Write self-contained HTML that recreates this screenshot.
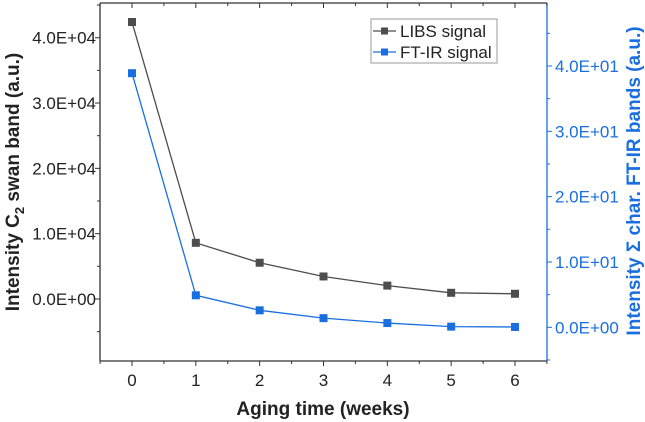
<!DOCTYPE html>
<html><head><meta charset="utf-8"><style>
body{margin:0;background:#fff}
svg{display:block;font-family:"Liberation Sans",Arial,sans-serif}
</style></head><body>
<svg id="chart" width="645" height="422" viewBox="0 0 645 422">
<g id="g"></g>
<g>
<rect x="371" y="19" width="126" height="44" fill="#fff" stroke="#999" stroke-width="1"/>
<line x1="373" y1="31" x2="396" y2="31" stroke="#4d4d4d" stroke-width="1.3"/>
<rect x="381" y="27.5" width="7" height="7" fill="#4d4d4d"/>
<text x="400" y="37" font-size="17" fill="#222">LIBS signal</text>
<line x1="373" y1="52" x2="396" y2="52" stroke="#1a6fe0" stroke-width="1.3"/>
<rect x="381" y="48.5" width="7" height="7" fill="#1a6fe0"/>
<text x="400" y="58" font-size="17" fill="#222">FT-IR signal</text>
</g>
<text x="323" y="415" text-anchor="middle" font-size="19" font-weight="bold" fill="#222">Aging time (weeks)</text>
<text transform="translate(19,182) rotate(-90)" text-anchor="middle" font-size="19" font-weight="bold" fill="#222">Intensity C<tspan font-size="13" dy="5">2</tspan><tspan dy="-5"> swan band (a.u.)</tspan></text>
<text transform="translate(640,181) rotate(-90)" text-anchor="middle" font-size="19" font-weight="bold" fill="#1a6fe0">Intensity Σ char. FT-IR bands (a.u.)</text>
</svg>
<script>
const categories=[0,1,2,3,4,5,6];
const libsValues=[42400,8600,5550,3450,2050,950,800];
const ftirValues=[38.9,4.9,2.6,1.4,0.65,0.1,0.05];
const leftTicks=["0.0E+00","1.0E+04","2.0E+04","3.0E+04","4.0E+04"];
const leftTickVals=[0,10000,20000,30000,40000];
const rightTicks=["0.0E+00","1.0E+01","2.0E+01","3.0E+01","4.0E+01"];
const rightTickVals=[0,10,20,30,40];

const L=100,R=547,T=3,B=361;
const xS=v=>132+(v-0)*(515-132)/6;
const yL=v=>299-v*(299-37.7)/40000;
const yR=v=>327.3-v*(327.3-66)/40;
const NS="http://www.w3.org/2000/svg";
const g=document.getElementById('g');
function el(t,a,p){const e=document.createElementNS(NS,t);for(const k in a)e.setAttribute(k,a[k]);(p||g).appendChild(e);return e;}
const gray="#4d4d4d",blue="#1a6fe0";

let e=el('line',{x1:L,y1:T,x2:R,y2:T,stroke:"#333","stroke-width":1.3});


e=el('line',{x1:L,y1:B,x2:R,y2:B,stroke:"#333","stroke-width":1.3});


e=el('line',{x1:L,y1:T,x2:L,y2:B,stroke:"#333","stroke-width":1.3});


e=el('line',{x1:R,y1:T,x2:R,y2:B,stroke:blue,"stroke-width":1.3});



for(let v=-0.5;v<=6.5;v+=0.5){
  const x=xS(v);const major=Number.isInteger(v);const len=major?5:3;
  el('line',{x1:x,y1:B,x2:x,y2:B+len,stroke:"#333","stroke-width":1});
  el('line',{x1:x,y1:T,x2:x,y2:T+len,stroke:"#333","stroke-width":1});
}
categories.forEach(c=>{
  const t=el('text',{x:xS(c),y:386,"text-anchor":"middle","font-size":17,fill:"#222"});t.textContent=c;
  
  
});
for(let v=-5000;v<=45000;v+=5000){
  const y=yL(v);if(y<T||y>B)continue;const len=v%10000===0?5:3;
  el('line',{x1:L,y1:y,x2:L-len,y2:y,stroke:"#333","stroke-width":1});
}
leftTickVals.forEach((v,i)=>{
  const t=el('text',{x:96,y:yL(v)+6,"text-anchor":"end","font-size":17,fill:"#222"});t.textContent=leftTicks[i];
  
  
});
for(let v=-5;v<=50;v+=5){
  const y=yR(v);if(y<T||y>B)continue;const len=v%10===0?5:3;
  el('line',{x1:R,y1:y,x2:R+len,y2:y,stroke:blue,"stroke-width":1});
}
rightTickVals.forEach((v,i)=>{
  const t=el('text',{x:555,y:yR(v)+6,"text-anchor":"start","font-size":17,fill:blue});t.textContent=rightTicks[i];
  
  
});

function series(vals,ys,color,name){
  const pts=vals.map((v,i)=>xS(categories[i])+","+ys(v)).join(" ");
  const pl=el('polyline',{points:pts,fill:"none",stroke:color,"stroke-width":1.3});
  
  
  vals.forEach((v,i)=>{
    const r=el('rect',{x:xS(categories[i])-4,y:ys(v)-4,width:8,height:8,fill:color});
    
    
  });
}
series(libsValues,yL,gray,'libs');
series(ftirValues,yR,blue,'ftir');
</script>
</body></html>
